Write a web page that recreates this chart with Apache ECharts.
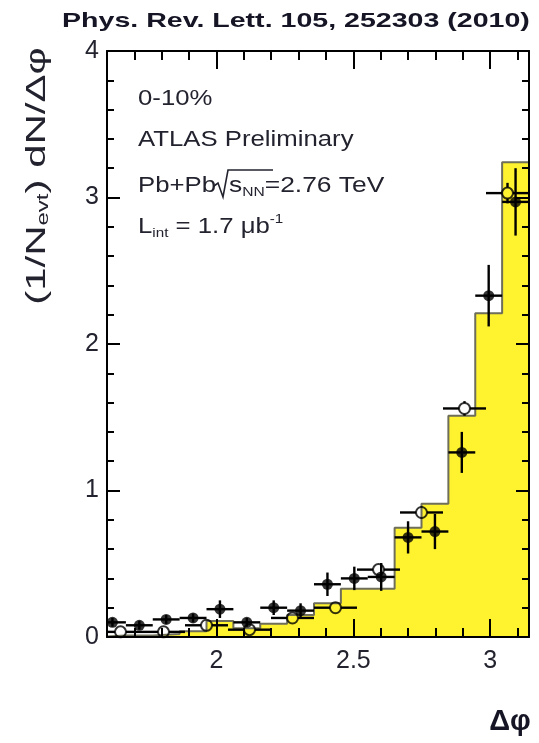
<!DOCTYPE html>
<html>
<head>
<meta charset="utf-8">
<script src="https://cdn.jsdelivr.net/npm/echarts@6/dist/echarts.min.js"></script>
<style>
  html, body { margin: 0; padding: 0; background: #fff; }
  #chart { width: 539px; height: 743px; }
</style>
</head>
<body>
<div id="chart"></div>
<script>
// Dijet azimuthal separation, 0-10% centrality
const PI = Math.PI;

// Pb+Pb data: 16 bins of width pi/32 over [pi/2, pi]
const pbpbValues = [0.10, 0.08, 0.12, 0.13, 0.19, 0.10, 0.20, 0.18, 0.36, 0.40, 0.41, 0.68, 0.72, 1.26, 2.33, 2.97];
const pbpbErrors = [0.03, 0.03, 0.03, 0.03, 0.06, 0.03, 0.05, 0.05, 0.08, 0.08, 0.095, 0.11, 0.12, 0.14, 0.21, 0.23];

// HIJING + PYTHIA expectation, same binning
const mcValues = [0.01, 0.01, 0.02, 0.04, 0.11, 0.06, 0.09, 0.15, 0.23, 0.33, 0.33, 0.745, 0.91, 1.51, 2.21, 3.24];

// p+p reference: 10 bins of width pi/20 over [pi/2, pi]
const ppValues = [0.035, 0.035, 0.08, 0.05, 0.13, 0.20, 0.46, 0.85, 1.56, 3.03];
const ppErrors = [0.01, 0.01, 0.015, 0.015, 0.02, 0.02, 0.03, 0.04, 0.05, 0.07];

// axis ticks
const xLabelValues = [2, 2.5, 3];
const xMinorTickValues = [1.6, 1.7, 1.8, 1.9, 2.0, 2.1, 2.2, 2.3, 2.4, 2.5, 2.6, 2.7, 2.8, 2.9, 3.0, 3.1];
const xMajorTickValues = [2, 2.5, 3];

const X_MIN = 1.6, X_MAX = PI;
const LO = PI / 2;

function binEdges(n) {
  const w = (PI - LO) / n;
  const e = [];
  for (let i = 0; i <= n; i++) e.push(LO + i * w);
  return e;
}
const fineEdges = binEdges(pbpbValues.length);
const coarseEdges = binEdges(ppValues.length);

// step outline of the MC histogram
const mcOutline = [[fineEdges[0], 0]];
mcValues.forEach((v, i) => {
  mcOutline.push([fineEdges[i], v]);
  mcOutline.push([fineEdges[i + 1], v]);
});
mcOutline.push([fineEdges[fineEdges.length - 1], 0]);

const pbpbPoints = pbpbValues.map((v, i) => [(fineEdges[i] + fineEdges[i + 1]) / 2, v, fineEdges[i], fineEdges[i + 1], pbpbErrors[i]]);
const ppPoints = ppValues.map((v, i) => [(coarseEdges[i] + coarseEdges[i + 1]) / 2, v, coarseEdges[i], coarseEdges[i + 1], ppErrors[i]]);

const TEXT = '#23232f';
const FONT = 'Liberation Sans, Arial, Helvetica, sans-serif';
const MARK_R = 5.5;

function errorBars(gap) {
  return function (params, api) {
    const x = api.value(0), y = api.value(1);
    const c = api.coord([x, y]);
    const l = api.coord([api.value(2), y]);
    const r = api.coord([api.value(3), y]);
    const t = api.coord([x, y + api.value(4)]);
    const b = api.coord([x, y - api.value(4)]);
    const style = { stroke: '#000', lineWidth: 2.4 };
    const segs = [
      [l[0], c[1], c[0] - gap, c[1]],
      [c[0] + gap, c[1], r[0], c[1]]
    ];
    if (c[1] - t[1] > gap) segs.push([c[0], t[1], c[0], c[1] - gap]);
    if (b[1] - c[1] > gap) segs.push([c[0], c[1] + gap, c[0], b[1]]);
    return {
      type: 'group',
      children: segs.map(s => ({ type: 'line', shape: { x1: s[0], y1: s[1], x2: s[2], y2: s[3] }, style }))
    };
  };
}

const GRID = { left: 107, right: 10, top: 51, bottom: 106 };
const frameLine = { show: true, onZero: false, lineStyle: { color: '#000', width: 2 } };
const noLine = { show: false, onZero: false };
const tickStyle = { color: '#000', width: 2 };

function xAxisDef(gridIndex, position, line, tick, label) {
  return {
    gridIndex, type: 'value', position, min: X_MIN, max: X_MAX, z: 10,
    axisLine: line, axisTick: tick, axisLabel: label, splitLine: { show: false }
  };
}

const chart = echarts.init(document.getElementById('chart'), null, { renderer: 'canvas' });
chart.setOption({
  animation: false,
  backgroundColor: '#fff',
  grid: [Object.assign({}, GRID), Object.assign({}, GRID)],
  xAxis: [
    xAxisDef(0, 'bottom', frameLine,
      { show: true, inside: true, length: 9, customValues: xMinorTickValues, lineStyle: tickStyle },
      { show: true, customValues: xLabelValues, fontSize: 25, fontFamily: FONT, color: TEXT, margin: 12 }),
    xAxisDef(0, 'top', frameLine,
      { show: true, inside: true, length: 9, customValues: xMinorTickValues, lineStyle: tickStyle },
      { show: false }),
    xAxisDef(1, 'bottom', noLine,
      { show: true, inside: true, length: 18, customValues: xMajorTickValues, lineStyle: tickStyle },
      { show: false }),
    xAxisDef(1, 'top', noLine,
      { show: true, inside: true, length: 18, customValues: xMajorTickValues, lineStyle: tickStyle },
      { show: false })
  ],
  yAxis: [
    {
      gridIndex: 0, type: 'value', position: 'left', min: 0, max: 4, interval: 1, z: 10,
      axisLine: frameLine,
      axisTick: { show: true, inside: true, length: 13, lineStyle: tickStyle },
      minorTick: { show: true, splitNumber: 5, length: 7, lineStyle: tickStyle },
      axisLabel: { show: true, fontSize: 25, fontFamily: FONT, color: TEXT, margin: 8 },
      splitLine: { show: false }
    },
    {
      gridIndex: 0, type: 'value', position: 'right', min: 0, max: 4, interval: 1, z: 10,
      axisLine: frameLine,
      axisTick: { show: true, inside: true, length: 13, lineStyle: tickStyle },
      minorTick: { show: true, splitNumber: 5, length: 7, lineStyle: tickStyle },
      axisLabel: { show: false },
      splitLine: { show: false }
    },
    { gridIndex: 1, type: 'value', min: 0, max: 4, show: false }
  ],
  series: [
    {
      type: 'line', xAxisIndex: 0, yAxisIndex: 0, data: mcOutline, symbol: 'none', z: 1,
      lineStyle: { color: '#6e6e5a', width: 2 },
      areaStyle: { color: '#fff22e', opacity: 1 },
      clip: true
    },
    {
      type: 'custom', xAxisIndex: 0, yAxisIndex: 0, data: ppPoints, z: 3, clip: true,
      renderItem: errorBars(MARK_R)
    },
    {
      type: 'scatter', xAxisIndex: 0, yAxisIndex: 0, data: ppPoints.map(p => [p[0], p[1]]), z: 4,
      symbol: 'circle', symbolSize: 2 * MARK_R,
      itemStyle: { color: 'rgba(0,0,0,0)', borderColor: '#000', borderWidth: 2 },
      clip: true
    },
    {
      type: 'custom', xAxisIndex: 0, yAxisIndex: 0, data: pbpbPoints, z: 5, clip: true,
      renderItem: errorBars(0)
    },
    {
      type: 'scatter', xAxisIndex: 0, yAxisIndex: 0, data: pbpbPoints.map(p => [p[0], p[1]]), z: 6,
      symbol: 'circle', symbolSize: 11,
      itemStyle: { color: '#000' },
      clip: true
    }
  ],
  graphic: [
    {
      type: 'text', x: 62, y: 21, scaleX: 1.36, z: 20,
      style: { text: 'Phys. Rev. Lett. 105, 252303 (2010)', fontSize: 21, fontWeight: 'bold', fontFamily: FONT, fill: '#151525', align: 'left', verticalAlign: 'middle' }
    },
    {
      type: 'text', x: 37, y: 176, rotation: PI / 2, scaleX: 1.5, z: 20,
      style: {
        text: '(1/N{sub|evt}) dN/Δφ', fontSize: 28, fontFamily: FONT, fill: TEXT, align: 'center', verticalAlign: 'middle',
        rich: { sub: { fontSize: 16, fontFamily: FONT, fill: TEXT, padding: [14, 0, 0, 0] } }
      }
    },
    {
      type: 'text', x: 510, y: 722, z: 20,
      style: { text: 'Δφ', fontSize: 29, fontWeight: 'bold', fontFamily: FONT, fill: '#151525', align: 'center', verticalAlign: 'middle' }
    },
    {
      type: 'text', x: 138, y: 99, scaleX: 1.17, z: 20,
      style: { text: '0-10%', fontSize: 22, fontFamily: FONT, fill: TEXT, align: 'left', verticalAlign: 'middle' }
    },
    {
      type: 'text', x: 138, y: 140, scaleX: 1.17, z: 20,
      style: { text: 'ATLAS Preliminary', fontSize: 22, fontFamily: FONT, fill: TEXT, align: 'left', verticalAlign: 'middle' }
    },
    {
      type: 'text', x: 138, y: 186, scaleX: 1.17, z: 20,
      style: { text: 'Pb+Pb', fontSize: 22, fontFamily: FONT, fill: TEXT, align: 'left', verticalAlign: 'middle' }
    },
    {
      type: 'polyline', z: 20,
      shape: { points: [[214, 186], [218, 183], [223, 197], [228, 170], [273, 170]] },
      style: { stroke: TEXT, lineWidth: 1.6, fill: null }
    },
    {
      type: 'text', x: 229, y: 186, scaleX: 1.2, z: 20,
      style: {
        text: 's{sub|NN}=2.76 TeV', fontSize: 22, fontFamily: FONT, fill: TEXT, align: 'left', verticalAlign: 'middle',
        rich: { sub: { fontSize: 13, fontFamily: FONT, fill: TEXT, padding: [12, 0, 0, 0] } }
      }
    },
    {
      type: 'text', x: 138, y: 227, scaleX: 1.17, z: 20,
      style: {
        text: 'L{sub|int} = 1.7 μb{sup|-1}', fontSize: 22, fontFamily: FONT, fill: TEXT, align: 'left', verticalAlign: 'middle',
        rich: {
          sub: { fontSize: 13, fontFamily: FONT, fill: TEXT, padding: [12, 0, 0, 0] },
          sup: { fontSize: 13, fontFamily: FONT, fill: TEXT, padding: [0, 0, 16, 0] }
        }
      }
    }
  ]
});
</script>
</body>
</html>
